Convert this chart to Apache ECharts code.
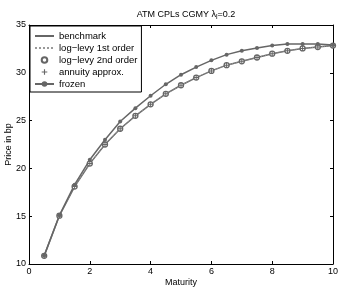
<!DOCTYPE html>
<html><head><meta charset="utf-8">
<script src="https://cdn.jsdelivr.net/npm/echarts@6/dist/echarts.min.js"></script>
<style>html,body{margin:0;padding:0;background:#fff}#c{width:341px;height:290px}</style>
</head><body><div id="c"></div>
<script>
var maturity = [0.5,1,1.5,2,2.5,3,3.5,4,4.5,5,5.5,6,6.5,7,7.5,8,8.5,9,9.5,10];
var benchmark = [10.85,15.05,18.1,20.5,22.5,24.15,25.5,26.7,27.8,28.7,29.5,30.2,30.8,31.2,31.6,32.0,32.3,32.55,32.7,32.85];
var logLevy1 = [10.85,15.05,18.1,20.5,22.5,24.15,25.5,26.7,27.8,28.7,29.5,30.2,30.8,31.2,31.6,32.0,32.3,32.55,32.7,32.85];
var logLevy2 = [10.85,15.05,18.1,20.5,22.5,24.15,25.5,26.7,27.8,28.7,29.5,30.2,30.8,31.2,31.6,32.0,32.3,32.55,32.7,32.85];
var annuity = [10.85,15.05,18.1,20.5,22.5,24.15,25.5,26.7,27.8,28.7,29.5,30.2,30.8,31.2,31.6,32.0,32.3,32.55,32.7,32.85];
var frozen = [10.9,15.1,18.3,20.9,23.0,24.9,26.3,27.6,28.8,29.8,30.6,31.3,31.9,32.3,32.6,32.85,33.0,33.0,33.0,32.9];
var xTicks = [0,2,4,6,8,10];
var yTicks = [10,15,20,25,30,35];

function pairs(v){ return maturity.map(function(m,i){ return [m, v[i]]; }); }
var grey = '#666666';
var font = 'Liberation Sans, Arial, sans-serif';
var plus = 'path://M4,0L6,0L6,4L10,4L10,6L6,6L6,10L4,10L4,6L0,6L0,4L4,4Z';

var chart = echarts.init(document.getElementById('c'), null, {renderer:'canvas'});
var axisCommon = {
  axisLine:{show:true, onZero:false, lineStyle:{color:'#000', width:1}},
  axisTick:{show:true, inside:true, length:3, lineStyle:{color:'#000'}},
  splitLine:{show:false}
};
chart.setOption({
  animation:false,
  backgroundColor:'#fff',
  title:{
    text:'ATM CPLs CGMY λ{s|l}=0.2', left:181, top:4, textAlign:'center',
    textStyle:{fontFamily:font, fontSize:9, fontWeight:'normal', color:'#000',
      rich:{s:{fontFamily:font, fontSize:7, verticalAlign:'bottom', padding:[5,0,0,0], color:'#000'}}}
  },
  grid:{left:29, right:8, top:25, bottom:26, containLabel:false, outerBoundsMode:'none'},
  legend:{
    orient:'vertical', left:30, top:26, padding:[5,4,3,4],
    borderColor:'#000', borderWidth:1, backgroundColor:'#fff',
    itemWidth:19, itemHeight:7, itemGap:2,
    textStyle:{fontFamily:font, fontSize:9.5, color:'#000', lineHeight:9},
    data:[
      {name:'benchmark', itemStyle:{opacity:0}},
      {name:'log\u2212levy 1st order', itemStyle:{opacity:0}},
      'log\u2212levy 2nd order','annuity approx.','frozen']
  },
  xAxis:[
    Object.assign({type:'value', min:0, max:10, interval:2, position:'bottom',
      name:'Maturity', nameLocation:'middle', nameGap:14, nameMoveOverlap:false,
      nameTextStyle:{fontFamily:font, fontSize:9, color:'#000'},
      axisLabel:{fontFamily:font, fontSize:9, color:'#000', margin:3}}, axisCommon),
    Object.assign({type:'value', min:0, max:10, interval:2, position:'top',
      axisLabel:{show:false}}, axisCommon)
  ],
  yAxis:[
    Object.assign({type:'value', min:10, max:35, interval:5, position:'left',
      name:'Price in bp', nameLocation:'middle', nameGap:16, nameMoveOverlap:false,
      nameTextStyle:{fontFamily:font, fontSize:9, color:'#000'},
      axisLabel:{fontFamily:font, fontSize:9, color:'#000', margin:3}}, axisCommon),
    Object.assign({type:'value', min:10, max:35, interval:5, position:'right',
      axisLabel:{show:false}}, axisCommon)
  ],
  series:[
    {name:'benchmark', type:'line', data:pairs(benchmark), symbol:'none',
      lineStyle:{color:grey, width:1.5}, itemStyle:{color:grey}},
    {name:'log\u2212levy 1st order', type:'line', data:pairs(logLevy1), symbol:'none',
      lineStyle:{color:'#999', width:1, type:'dotted'}, itemStyle:{color:'#999'}},
    {name:'log\u2212levy 2nd order', type:'line', data:pairs(logLevy2), symbol:'circle', symbolSize:5,
      lineStyle:{width:0, color:grey}, itemStyle:{color:'#fff', borderColor:grey, borderWidth:1.3}},
    {name:'annuity approx.', type:'line', data:pairs(annuity), symbol:plus, symbolSize:5,
      lineStyle:{width:0, color:grey}, itemStyle:{color:grey}},
    {name:'frozen', type:'line', data:pairs(frozen), symbol:'circle', symbolSize:4,
      lineStyle:{color:grey, width:1.5}, itemStyle:{color:grey}}
  ]
});
</script></body></html>
